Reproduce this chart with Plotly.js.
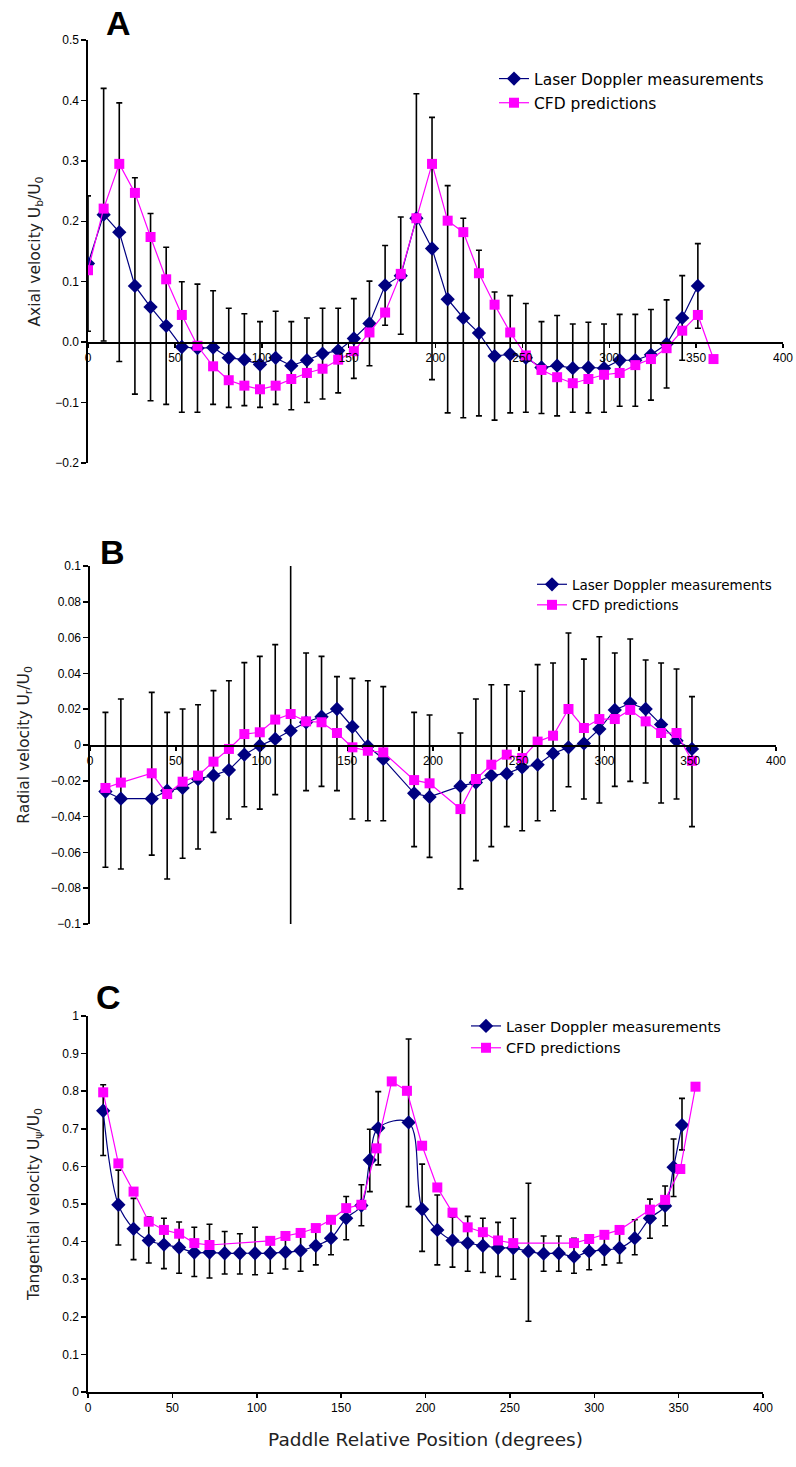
<!DOCTYPE html>
<html>
<head>
<meta charset="utf-8">
<script src="https://cdn.plot.ly/plotly-3.0.1.min.js"></script>
<style>html,body{margin:0;padding:0;background:#fff;}#chart{width:796px;height:1467px;}</style>
</head>
<body>
<div id="chart"></div>
<script>
// ---------- DATA ----------
const seriesNames = ["Laser Doppler measurements", "CFD predictions"];

// Panel A : axial velocity
const xA_ldv = [0,9,18,27,36,45,54,63,72,81,90,99,108,117,126,135,144,153,162,171,180,189,198,207,216,225,234,243,252,261,270,279,288,297,306,315,324,333,342,351];
const yA_ldv = [0.130,0.211,0.182,0.093,0.058,0.027,-0.008,-0.010,-0.009,-0.026,
                -0.029,-0.037,-0.026,-0.039,-0.030,-0.019,-0.014,0.006,0.031,0.094,
                0.110,0.205,0.155,0.071,0.040,0.015,-0.023,-0.020,-0.026,-0.042,
                -0.039,-0.043,-0.042,-0.043,-0.030,-0.030,-0.021,-0.003,0.040,0.093];
const errA_ldv = [0.112,0.209,0.214,0.179,0.155,0.130,0.108,0.106,0.094,0.082,
                  0.076,0.071,0.077,0.073,0.070,0.075,0.070,0.066,0.070,0.066,
                  0.097,0.206,0.217,0.188,0.165,0.137,0.106,0.097,0.090,0.076,
                  0.083,0.073,0.075,0.073,0.076,0.076,0.075,0.073,0.070,0.070];
const xA_cfd = [0,9,18,27,36,45,54,63,72,81,90,99,108,117,126,135,144,153,162,171,180,189,198,207,216,225,234,243,252,261,270,279,288,297,306,315,324,333,342,351,360];
const yA_cfd = [0.119,0.221,0.295,0.247,0.174,0.104,0.045,-0.006,-0.040,-0.063,
                -0.072,-0.078,-0.072,-0.061,-0.051,-0.044,-0.029,-0.015,0.016,0.049,
                0.113,0.205,0.295,0.201,0.182,0.114,0.062,0.016,-0.022,-0.046,
                -0.058,-0.068,-0.061,-0.054,-0.051,-0.038,-0.028,-0.010,0.019,0.045,-0.028];

// Panel B : radial velocity
const xB = [9,18,36,45,54,63,72,81,90,99,108,117,126,135,144,153,162,171,189,198,216,225,234,243,252,261,270,279,288,297,306,315,324,333,342,351];
const yB_ldv = [-0.026,-0.030,-0.030,-0.0255,-0.024,-0.019,-0.017,-0.014,-0.0054,-0.0004,
                0.0034,0.008,0.0127,0.0158,0.0201,0.0102,-0.0007,-0.0078,-0.027,-0.029,
                -0.023,-0.021,-0.017,-0.016,-0.0125,-0.011,-0.0047,-0.0013,0.0009,0.0089,
                0.0196,0.0233,0.0201,0.0114,0.0024,-0.0022];
const hiB_ldv = [0.0182,0.0257,0.0294,0.0182,0.0201,0.0225,0.0304,0.0359,0.046,0.0495,
                 0.0561,0.103,0.0514,0.0495,0.0382,0.0372,0.0359,0.0326,0.0182,0.0168,
                 0.0067,0.0257,0.0337,0.0337,0.030,0.0449,0.0458,0.0626,0.048,0.0605,
                 0.0514,0.0592,0.0475,0.0458,0.0425,0.027];
const loB_ldv = [-0.0683,-0.0693,-0.0615,-0.0749,-0.0633,-0.0581,-0.0488,-0.0413,-0.0345,-0.0358,
                 -0.0277,-0.101,-0.0255,-0.0231,-0.0255,-0.0413,-0.0423,-0.0423,-0.0568,-0.0628,
                 -0.0804,-0.0646,-0.0568,-0.0456,-0.0479,-0.0423,-0.0367,-0.0233,-0.0302,-0.0324,
                 -0.0231,-0.0203,-0.0212,-0.0324,-0.0302,-0.0456];
const yB_cfd = [-0.024,-0.021,-0.0158,-0.0274,-0.0205,-0.0171,-0.0093,-0.0022,0.0061,0.0071,
                0.0142,0.0173,0.0132,0.0127,0.0067,-0.0013,-0.0032,-0.0041,-0.0196,-0.0214,
                -0.0358,-0.019,-0.011,-0.0054,-0.0073,0.0019,0.0052,0.0201,0.0095,0.0145,
                0.0145,0.0196,0.0132,0.0067,0.0067,-0.0088];

// Panel C : tangential velocity
const xC_ldv = [9,18,27,36,45,54,63,72,81,90,99,108,117,126,135,144,153,162,167,172,
                190,198,207,216,225,234,243,252,261,270,279,288,297,306,315,324,333,342,347,352];
const yC_ldv = [0.748,0.498,0.434,0.403,0.392,0.384,0.371,0.371,0.369,0.369,
                0.369,0.369,0.372,0.376,0.389,0.409,0.462,0.496,0.617,0.702,
                0.717,0.486,0.431,0.403,0.396,0.389,0.383,0.383,0.374,0.368,
                0.369,0.360,0.374,0.378,0.383,0.409,0.462,0.495,0.598,0.710];
const hiC_ldv = [0.817,0.590,0.515,0.465,0.462,0.452,0.438,0.446,0.427,0.421,
                 0.438,0.405,0.418,0.421,0.440,0.462,0.520,0.551,0.699,0.799,
                 0.939,0.606,0.524,0.465,0.467,0.462,0.451,0.462,0.555,0.415,
                 0.415,0.409,0.396,0.415,0.436,0.458,0.513,0.548,0.673,0.781];
const loC_ldv = [0.629,0.391,0.352,0.343,0.328,0.316,0.307,0.303,0.314,0.314,
                 0.312,0.316,0.327,0.321,0.338,0.365,0.405,0.442,0.533,0.604,
                 0.493,0.374,0.338,0.332,0.321,0.318,0.307,0.300,0.188,0.321,
                 0.321,0.316,0.325,0.338,0.343,0.365,0.409,0.442,0.520,0.644];
const xC_cfd = [9,18,27,36,45,54,63,72,108,117,126,135,144,153,162,171,180,
                189,198,207,216,225,234,243,252,288,297,306,315,333,342,351,360];
const yC_cfd = [0.797,0.608,0.533,0.453,0.431,0.421,0.396,0.391,0.402,0.415,0.423,0.436,0.458,0.489,0.498,0.648,0.826,
                0.801,0.655,0.544,0.477,0.438,0.425,0.403,0.396,0.396,0.407,0.418,0.431,0.485,0.511,0.593,0.812];

const xTickVals = [0,50,100,150,200,250,300,350,400];

// ---------- LAYOUT HELPERS ----------
const W = 796, H = 1467;
const px = v => v / W;
const py = v => 1 - v / H;
const FONT = '"Liberation Sans", Arial, sans-serif';
const WIDE = '"DejaVu Sans", Verdana, sans-serif';
const NAVY = '#000080', MAG = '#FF00FF';

function diff(a, b) { return a.map((v, i) => v - b[i]); }

function ldvTrace(x, y, plus, minus, xa, ya, lg, shape) {
  return {
    type: 'scatter', mode: 'lines+markers', name: seriesNames[0],
    x: x, y: y, xaxis: xa, yaxis: ya, legend: lg, legendgroup: lg + 'a',
    line: { color: NAVY, width: 1.2, shape: shape || 'linear', smoothing: 1 },
    marker: { symbol: 'diamond', size: 11, color: NAVY },
    error_y: { type: 'data', symmetric: false, array: plus, arrayminus: minus,
               color: '#000', thickness: 1.6, width: 3 }
  };
}
function cfdTrace(x, y, xa, ya, lg) {
  return {
    type: 'scatter', mode: 'lines+markers', name: seriesNames[1],
    x: x, y: y, xaxis: xa, yaxis: ya, legend: lg, legendgroup: lg + 'b',
    line: { color: MAG, width: 1.2 },
    marker: { symbol: 'square', size: 10, color: MAG }
  };
}

const data = [
  ldvTrace(xA_ldv, yA_ldv, errA_ldv, errA_ldv, 'x', 'y', 'legend'),
  cfdTrace(xA_cfd, yA_cfd, 'x', 'y', 'legend'),
  ldvTrace(xB, yB_ldv, diff(hiB_ldv, yB_ldv), diff(yB_ldv, loB_ldv), 'x2', 'y2', 'legend2'),
  cfdTrace(xB, yB_cfd, 'x2', 'y2', 'legend2'),
  ldvTrace(xC_ldv, yC_ldv, diff(hiC_ldv, yC_ldv), diff(yC_ldv, loC_ldv), 'x3', 'y3', 'legend3', 'spline'),
  cfdTrace(xC_cfd, yC_cfd, 'x3', 'y3', 'legend3')
];

function xAxis(l, r, anchor, pos) {
  const ax = {
    domain: [px(l), px(r)], range: [0, 400], tickvals: xTickVals,
    ticks: 'outside', ticklen: 4, tickwidth: 1.5, tickcolor: '#000',
    showline: true, linecolor: '#000', linewidth: 1.6, showgrid: false, zeroline: false,
    tickfont: { family: FONT, size: 12, color: '#000' }, automargin: false, fixedrange: true
  };
  if (pos !== undefined) { ax.anchor = 'free'; ax.position = pos; } else { ax.anchor = anchor; }
  return ax;
}
function yAxis(top, bottom, range, dtick, fmt, title, xanchor, standoff) {
  return {
    domain: [py(bottom), py(top)], range: range, dtick: dtick, tick0: 0, tickformat: fmt,
    anchor: xanchor, ticks: 'outside', ticklen: 5, tickwidth: 1.5, tickcolor: '#000',
    showline: true, linecolor: '#000', linewidth: 1.6, showgrid: false, zeroline: false,
    tickfont: { family: FONT, size: 12, color: '#000' }, automargin: false, fixedrange: true,
    title: { text: title, font: { family: WIDE, size: 15.5, color: '#222' }, standoff: standoff }
  };
}
function legendAt(left, top, size, gap) {
  return { x: px(left), y: py(top), xanchor: 'left', yanchor: 'top',
           font: { family: WIDE, size: size, color: '#000' }, bgcolor: 'rgba(0,0,0,0)',
           traceorder: 'grouped', tracegroupgap: gap, itemwidth: 30 };
}
function letter(t, x, y) {
  return { text: '<b>' + t + '</b>', x: px(x), y: py(y), xref: 'paper', yref: 'paper',
           xanchor: 'center', yanchor: 'middle', showarrow: false,
           font: { family: FONT, size: 34, color: '#000' } };
}

const layout = {
  width: W, height: H, margin: { l: 0, r: 0, t: 0, b: 0 },
  paper_bgcolor: '#fff', plot_bgcolor: '#fff', font: { family: FONT },
  showlegend: true,
  xaxis: xAxis(88, 783, null, py(342)),
  yaxis: yAxis(40, 463, [-0.2, 0.5], 0.1, '.1f', 'Axial velocity U<sub>b</sub>/U<sub>0</sub>', 'x', 11),
  xaxis2: xAxis(90, 776, null, py(745)),
  yaxis2: yAxis(566, 924, [-0.1, 0.1], 0.02, '', 'Radial velocity U<sub>r</sub>/U<sub>0</sub>', 'x2', 17),
  xaxis3: Object.assign(xAxis(88, 763, 'y3'), {
    title: { text: 'Paddle Relative Position (degrees)', font: { family: WIDE, size: 18.5, color: '#222' }, standoff: 19 }
  }),
  yaxis3: yAxis(1016, 1392, [0, 1], 0.1, '', 'Tangential velocity U<sub>ψ</sub>/U<sub>0</sub>', 'x3', 19),
  legend: legendAt(494, 62, 15.5, 1),
  legend2: legendAt(532, 569, 13.5, 0),
  legend3: legendAt(466, 1010, 14.5, 0),
  annotations: [ letter('A', 118, 23), letter('B', 112, 552), letter('C', 108, 997) ]
};

Plotly.newPlot('chart', data, layout, { staticPlot: true, displayModeBar: false });
</script>
</body>
</html>
